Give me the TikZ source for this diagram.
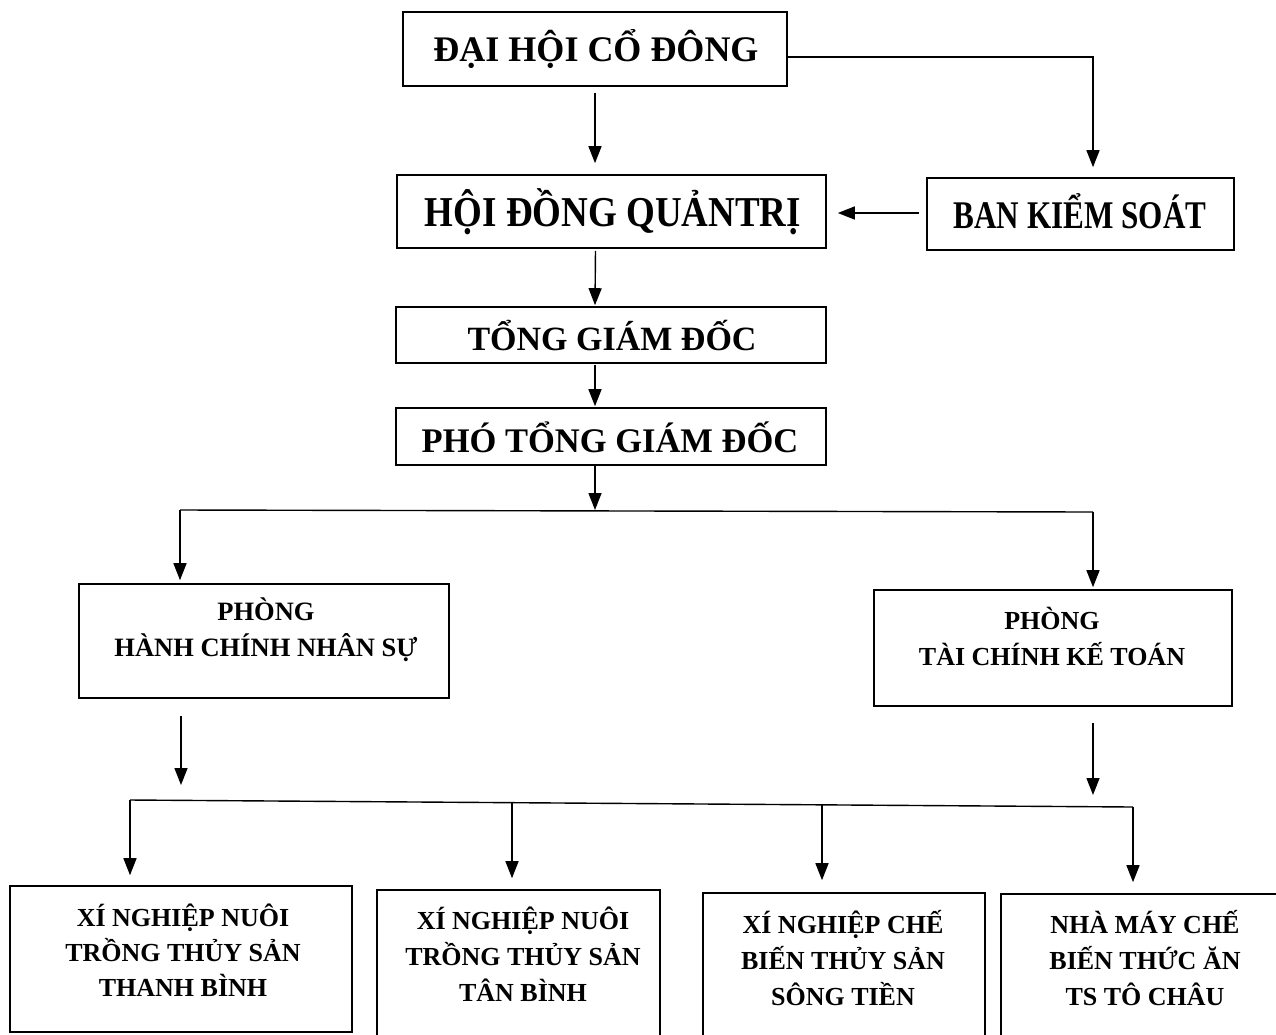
\documentclass[tikz,border=0pt]{standalone}
\usepackage{graphicx}
\usepackage{fontspec}
\setmainfont{Liberation Serif}
\usetikzlibrary{arrows.meta}
\tikzset{
  box/.style={draw, line width=1.6pt, rectangle, inner sep=0pt},
  txt/.style={font=\bfseries, align=center, inner sep=0pt},
  conn/.style={line width=1.4pt},
  arr/.style={conn, -{Triangle[length=17pt,width=13pt]}},
}
\begin{document}
\begin{tikzpicture}[x=1pt,y=-1pt]
\useasboundingbox (0,0) rectangle (1276,1034);
\fill[white] (0,0) rectangle (1276,1034);
% boxes
\node[box, minimum width=384pt, minimum height=74pt] (dhcd) at (595,49) {};
\node[txt, font=\bfseries\fontsize{36}{40}\selectfont] (tdhcd) at (596,49) {ĐẠI HỘI CỔ ĐÔNG};
\node[box, minimum width=429pt, minimum height=73pt] (hdqt) at (611.5,211.5) {};
\node[txt, font=\bfseries\fontsize{37}{40}\selectfont] (thdqt) at (613,212) {\scalebox{1}[1.15]{HỘI ĐỒNG QUẢNTRỊ}};
\node[box, minimum width=307pt, minimum height=72pt] (bks) at (1080.5,214) {};
\node[txt, font=\bfseries\fontsize{35}{40}\selectfont] (tbks) at (1080,211) {\scalebox{0.89}[1.12]{BAN KIỂM SOÁT}};
\node[box, minimum width=430pt, minimum height=56pt] (tgd) at (611,335) {};
\node[txt, font=\bfseries\fontsize{34}{40}\selectfont] (ttgd) at (612,336) {TỔNG GIÁM ĐỐC};
\node[box, minimum width=430pt, minimum height=57pt] (ptgd) at (611,436.5) {};
\node[txt, font=\bfseries\fontsize{34.5}{40}\selectfont] (tptgd) at (610,437) {PHÓ TỔNG GIÁM ĐỐC};
\node[box, minimum width=370pt, minimum height=114pt] (hcns) at (264,641) {};
\node[txt, font=\bfseries\fontsize{26.5}{36}\selectfont] (thcns) at (266,630) {PHÒNG\\HÀNH CHÍNH NHÂN SỰ};
\node[box, minimum width=358pt, minimum height=116pt] (tckt) at (1053,648) {};
\node[txt, font=\bfseries\fontsize{26}{36}\selectfont] (ttckt) at (1052,636) {PHÒNG\\TÀI CHÍNH KẾ TOÁN};
\node[box, minimum width=342pt, minimum height=146pt] (xn1) at (181,959) {};
\node[txt, font=\bfseries\fontsize{26}{35}\selectfont] (txn1) at (183,950) {XÍ NGHIỆP NUÔI\\TRỒNG THỦY SẢN\\THANH BÌNH};
\node[box, minimum width=283pt, minimum height=156pt] (xn2) at (518.5,968) {};
\node[txt, font=\bfseries\fontsize{26}{36}\selectfont] (txn2) at (523,954) {XÍ NGHIỆP NUÔI\\TRỒNG THỦY SẢN\\TÂN BÌNH};
\node[box, minimum width=282pt, minimum height=153pt] (xn3) at (844,969.5) {};
\node[txt, font=\bfseries\fontsize{26}{36}\selectfont] (txn3) at (843,958) {XÍ NGHIỆP CHẾ\\BIẾN THỦY SẢN\\SÔNG TIỀN};
\node[box, minimum width=289pt, minimum height=152pt] (nmcb) at (1145.5,970) {};
\node[txt, font=\bfseries\fontsize{26}{36}\selectfont] (tnmcb) at (1145,958) {NHÀ MÁY CHẾ\\BIẾN THỨC ĂN\\TS TÔ CHÂU};
% junction coordinates
\coordinate (j1) at (595,510);
\coordinate (b1L) at (180,510);
\coordinate (b1R) at (1093,512);
\coordinate (b2L) at (130,800);
\coordinate (b2R) at (1133,807);
\coordinate (b2a) at (512,802.7);
\coordinate (b2b) at (822,804.8);
\coordinate (h2) at (181,785);
\coordinate (t2) at (1093,795);
% connectors
\draw[arr, shorten <=6pt, shorten >=11pt] (dhcd.south) -- (dhcd.south |- hdqt.north);
\draw[arr, shorten >=10pt] ([yshift=-8pt]dhcd.east) -| ([xshift=12.5pt]bks.north);
\draw[arr, shorten <=7pt, shorten >=11pt] (bks.west |- 0,213) -- (hdqt.east |- 0,213);
\draw[arr, shorten <=2pt, shorten >=1pt] ([xshift=-16pt]hdqt.south) -- ([xshift=-16pt]tgd.north);
\draw[arr, shorten <=1pt, shorten >=1pt] ([xshift=-16pt]tgd.south) -- ([xshift=-16pt]ptgd.north);
\draw[arr] ([xshift=-16pt]ptgd.south) -- (j1);
\draw[conn] (b1L) -- (b1R);
\draw[arr, shorten >=3pt] (b1L) -- (b1L |- hcns.north);
\draw[arr, shorten >=2pt] (b1R) -- (b1R |- tckt.north);
\draw[arr, shorten <=17pt] (hcns.south -| h2) -- (h2);
\draw[arr, shorten <=16pt] (tckt.south -| t2) -- (t2);
\draw[conn] (b2L) -- (b2R);
\draw[arr, shorten >=10pt] (b2L) -- (b2L |- xn1.north);
\draw[arr, shorten >=11pt] (b2a) -- (b2a |- xn2.north);
\draw[arr, shorten >=12pt] (b2b) -- (b2b |- xn3.north);
\draw[arr, shorten >=11pt] (b2R) -- (b2R |- nmcb.north);
\end{tikzpicture}
\end{document}
